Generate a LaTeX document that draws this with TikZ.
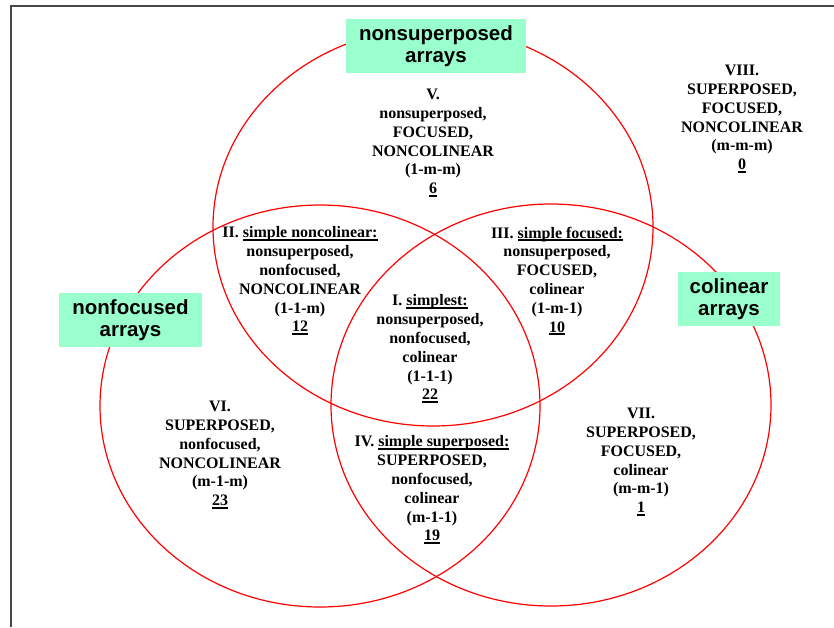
\documentclass[tikz,border=0pt]{standalone}
\usepackage{fontspec}
\setmainfont{Liberation Serif}
\newfontfamily\boxfont{Liberation Sans}
\definecolor{mint}{RGB}{153,255,204}
\definecolor{framegray}{RGB}{70,70,70}
\newcommand\myul[1]{\setbox0=\hbox{#1}\rlap{\rule[-3.2pt]{\wd0}{2.2pt}}\box0}
\tikzset{
  setcircle/.style={draw=red, line width=1.2pt},
  labelbox/.style={fill=mint, inner sep=0pt, align=center,
    font=\boxfont\fontsize{20.5}{22}\selectfont\bfseries},
  regiontext/.style={align=center, inner sep=0pt,
    font=\fontsize{16}{18.8}\selectfont\bfseries}
}
\begin{document}
\begin{tikzpicture}[x=1pt,y=-1pt]
\useasboundingbox (0,0) rectangle (834,627);
% frame
\draw[framegray, line width=1.6pt] (11,627) -- (11,6) -- (834,6);
% circles
\draw[setcircle] (433,227) ellipse [x radius=220pt, y radius=199pt];
\draw[setcircle] (320,406) ellipse [x radius=220pt, y radius=201pt];
\draw[setcircle] (551,405) ellipse [x radius=220pt, y radius=201pt];
% label boxes
\node[labelbox, minimum width=180pt, minimum height=54pt] (nonsup) at (436,46) {nonsuperposed\\arrays};
\node[labelbox, minimum width=143pt, minimum height=54pt] (nonfoc) at (130.5,320) {nonfocused\\arrays};
\node[labelbox, minimum width=102pt, minimum height=54pt] (colin) at (729,299) {colinear\\arrays};
% region texts
\node[regiontext] (r1) at (430,349) {I. \myul{simplest:}\\nonsuperposed,\\nonfocused,\\colinear\\(1-1-1)\\\myul{22}};
\node[regiontext] (r2) at (300,281) {II. \myul{simple noncolinear:}\\nonsuperposed,\\nonfocused,\\NONCOLINEAR\\(1-1-m)\\\myul{12}};
\node[regiontext] (r3) at (557,281) {III. \myul{simple focused:}\\nonsuperposed,\\FOCUSED,\\colinear\\(1-m-1)\\\myul{10}};
\node[regiontext] (r4) at (432,490) {IV. \myul{simple superposed:}\\SUPERPOSED,\\nonfocused,\\colinear\\(m-1-1)\\\myul{19}};
\node[regiontext] (r5) at (433,143) {V.\\nonsuperposed,\\FOCUSED,\\NONCOLINEAR\\(1-m-m)\\\myul{6}};
\node[regiontext] (r6) at (220,455) {VI.\\SUPERPOSED,\\nonfocused,\\NONCOLINEAR\\(m-1-m)\\\myul{23}};
\node[regiontext] (r7) at (641,462) {VII.\\SUPERPOSED,\\FOCUSED,\\colinear\\(m-m-1)\\\myul{1}};
\node[regiontext] (r8) at (742,119) {VIII.\\SUPERPOSED,\\FOCUSED,\\NONCOLINEAR\\(m-m-m)\\\myul{0}};
\end{tikzpicture}
\end{document}
